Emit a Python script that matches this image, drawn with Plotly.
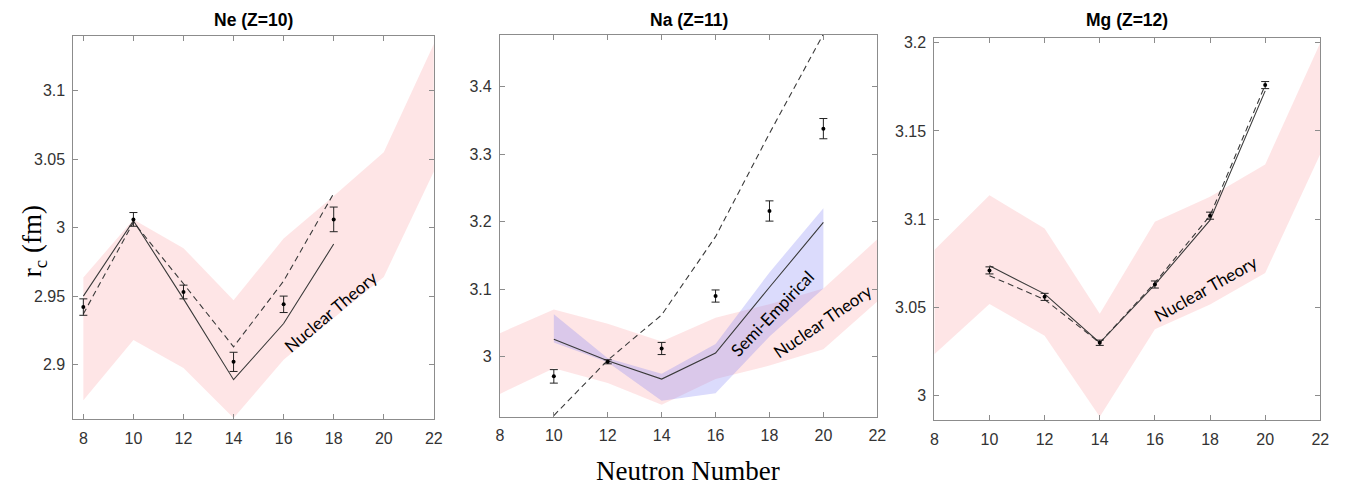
import plotly.graph_objects as go

# ---------------- data ----------------
N_band = [8, 10, 12, 14, 16, 18, 20, 22]

# Ne (Z=10)
ne_band_hi = [2.9635, 3.006, 2.985, 2.947, 2.992, 3.023, 3.055, 3.134]
ne_band_lo = [2.874, 2.918, 2.8975, 2.861, 2.9036, 2.934, 2.964, 3.041]
ne_N = [8, 10, 12, 14, 16, 18]
ne_solid = [2.950, 3.005, 2.948, 2.889, 2.930, 2.988]
ne_dash = [2.937, 3.004, 2.959, 2.913, 2.961, 3.025]
ne_exp = [2.942, 3.006, 2.953, 2.902, 2.944, 3.006]
ne_err = [0.006, 0.005, 0.005, 0.007, 0.006, 0.009]

# Na (Z=11)
na_band_hi = [3.035, 3.070, 3.049, 3.0226, 3.058, 3.078, 3.101, 3.174]
na_band_lo = [2.945, 2.983, 2.961, 2.929, 2.967, 2.987, 3.011, 3.082]
na_N = [10, 12, 14, 16, 18, 20]
na_semi_hi = [3.063, 2.998, 2.975, 3.019, 3.125, 3.220]
na_semi_lo = [3.021, 2.992, 2.935, 2.946, 3.030, 3.101]
na_solid = [3.026, 2.994, 2.967, 3.0055, 3.103, 3.199]
na_dash = [2.913, 2.995, 3.062, 3.178, 3.331, 3.478]
na_exp = [2.971, 2.9926, 3.0123, 3.090, 3.216, 3.338]
na_err = [0.010, 0.003, 0.009, 0.009, 0.015, 0.015]

# Mg (Z=12)
mg_band_hi = [3.0826, 3.1136, 3.0948, 3.0464, 3.0986, 3.1127, 3.131, 3.200]
mg_band_lo = [3.0235, 3.052, 3.034, 2.988, 3.0376, 3.0517, 3.0695, 3.137]
mg_N = [10, 12, 14, 16, 18, 20]
mg_solid = [3.0736, 3.0577, 3.030, 3.0629, 3.0995, 3.1727]
mg_dash = [3.068, 3.0545, 3.030, 3.064, 3.102, 3.176]
mg_exp = [3.071, 3.056, 3.030, 3.063, 3.102, 3.176]
mg_err = [0.002, 0.002, 0.0015, 0.002, 0.002, 0.002]

titles = ["Ne (Z=10)", "Na (Z=11)", "Mg (Z=12)"]
x_ticks = [8, 10, 12, 14, 16, 18, 20, 22]
ne_yticks = [2.9, 2.95, 3.0, 3.05, 3.1]
na_yticks = [3.0, 3.1, 3.2, 3.3, 3.4]
mg_yticks = [3.0, 3.05, 3.1, 3.15, 3.2]

# ---------------- styling ----------------
PINK = "rgba(250,160,165,0.28)"
BLUE = "rgba(125,125,245,0.28)"
LINE = "#3a3a3a"
AXC = "#8c8c8c"

fig = go.Figure()

def add_band(xs, hi, lo, color, axis):
    fig.add_trace(go.Scatter(
        x=list(xs) + list(xs)[::-1], y=list(hi) + list(lo)[::-1],
        fill="toself", fillcolor=color, line=dict(width=0), mode="lines",
        hoverinfo="skip", showlegend=False, xaxis="x" + axis, yaxis="y" + axis))

def add_lines(xs, solid, dash, axis):
    fig.add_trace(go.Scatter(x=xs, y=solid, mode="lines",
                             line=dict(color=LINE, width=1.1), showlegend=False,
                             xaxis="x" + axis, yaxis="y" + axis))
    fig.add_trace(go.Scatter(x=xs, y=dash, mode="lines",
                             line=dict(color=LINE, width=1.1, dash="6px,4px"), showlegend=False,
                             xaxis="x" + axis, yaxis="y" + axis))

def add_exp(xs, ys, err, axis):
    fig.add_trace(go.Scatter(x=xs, y=ys, mode="markers",
                             marker=dict(color="black", size=4),
                             error_y=dict(type="data", array=err, visible=True,
                                          color="#222", thickness=1, width=4),
                             showlegend=False, xaxis="x" + axis, yaxis="y" + axis))

# Ne
add_band(N_band, ne_band_hi, ne_band_lo, PINK, "")
add_lines(ne_N, ne_solid, ne_dash, "")
add_exp(ne_N, ne_exp, ne_err, "")
# Na
add_band(N_band, na_band_hi, na_band_lo, PINK, "2")
add_band(na_N, na_semi_hi, na_semi_lo, BLUE, "2")
add_lines(na_N, na_solid, na_dash, "2")
add_exp(na_N, na_exp, na_err, "2")
# Mg
add_band(N_band, mg_band_hi, mg_band_lo, PINK, "3")
add_lines(mg_N, mg_solid, mg_dash, "3")
add_exp(mg_N, mg_exp, mg_err, "3")

W, H = 1362, 486
doms_x = [(70 / W, 434 / W), (500.7 / W, 881.7 / W), (939.3 / W, 1329 / W)]
doms_y = [(1 - 419 / H, 1 - 33 / H), (1 - 416.7 / H, 1 - 32.3 / H), (1 - 420 / H, 1 - 35 / H)]
xranges = [[7.6, 22], [8, 22], [8, 22]]
yranges = [[2.86, 3.14], [2.9106, 3.4766], [2.986, 3.2028]]
yticks = [ne_yticks, na_yticks, mg_yticks]

def fmt(v):
    s = ("%.2f" % v).rstrip("0").rstrip(".")
    return s

common = dict(showline=True, linecolor=AXC, linewidth=1, mirror="ticks",
              ticks="inside", ticklen=5, tickcolor=AXC, showgrid=False,
              zeroline=False, ticklabelstandoff=4,
              tickfont=dict(family="Arial, Liberation Sans", size=16, color="#333"))

layout = dict(width=W, height=H, margin=dict(l=0, r=0, t=0, b=0),
              paper_bgcolor="white", plot_bgcolor="white", showlegend=False)
for i in range(3):
    s = "" if i == 0 else str(i + 1)
    layout["xaxis" + s] = dict(domain=list(doms_x[i]), range=xranges[i], anchor="y" + s,
                               tickvals=x_ticks, ticktext=[str(t) for t in x_ticks], **common)
    layout["yaxis" + s] = dict(domain=list(doms_y[i]), range=yranges[i], anchor="x" + s,
                               tickvals=yticks[i], ticktext=[fmt(t) for t in yticks[i]], **common)
fig.update_layout(**layout)

ann = []
centers = [(70 + 434) / 2, (500.7 + 881.7) / 2, (939.3 + 1329) / 2]
for i, t in enumerate(titles):
    ann.append(dict(text="<b>%s</b>" % t, x=centers[i] / W, y=1 - 17 / H, xref="paper", yref="paper",
                    xanchor="center", yanchor="middle", showarrow=False,
                    font=dict(family="Arial, Liberation Sans", size=17.5, color="black")))
ann.append(dict(text="r<sub>c</sub> (fm)", x=30 / W, y=1 - 240 / H, xref="paper", yref="paper",
                textangle=-90, showarrow=False, xanchor="center", yanchor="middle",
                font=dict(family="Liberation Serif, Times New Roman", size=27, color="black")))
ann.append(dict(text="Neutron Number", x=691 / W, y=1 - 471 / H, xref="paper", yref="paper",
                xanchor="center", yanchor="middle", showarrow=False,
                font=dict(family="Liberation Serif, Times New Roman", size=27, color="black")))

lab_font = dict(family="Lato, Open Sans", size=17, color="black")
ann.append(dict(text="Nuclear Theory", x=17.88, y=2.939, xref="x", yref="y", textangle=-40,
                showarrow=False, font=lab_font))
ann.append(dict(text="Semi-Empirical", x=18.10, y=3.064, xref="x2", yref="y2", textangle=-46,
                showarrow=False, font=lab_font))
ann.append(dict(text="Nuclear Theory", x=19.95, y=3.053, xref="x2", yref="y2", textangle=-34.5,
                showarrow=False, font=lab_font))
ann.append(dict(text="Nuclear Theory", x=17.84, y=3.061, xref="x3", yref="y3", textangle=-29.4,
                showarrow=False, font=lab_font))
fig.update_layout(annotations=ann)

fig.write_html("out.html", config={"displayModeBar": False},
               post_script="document.body.style.margin='0';document.body.style.overflow='hidden';")
